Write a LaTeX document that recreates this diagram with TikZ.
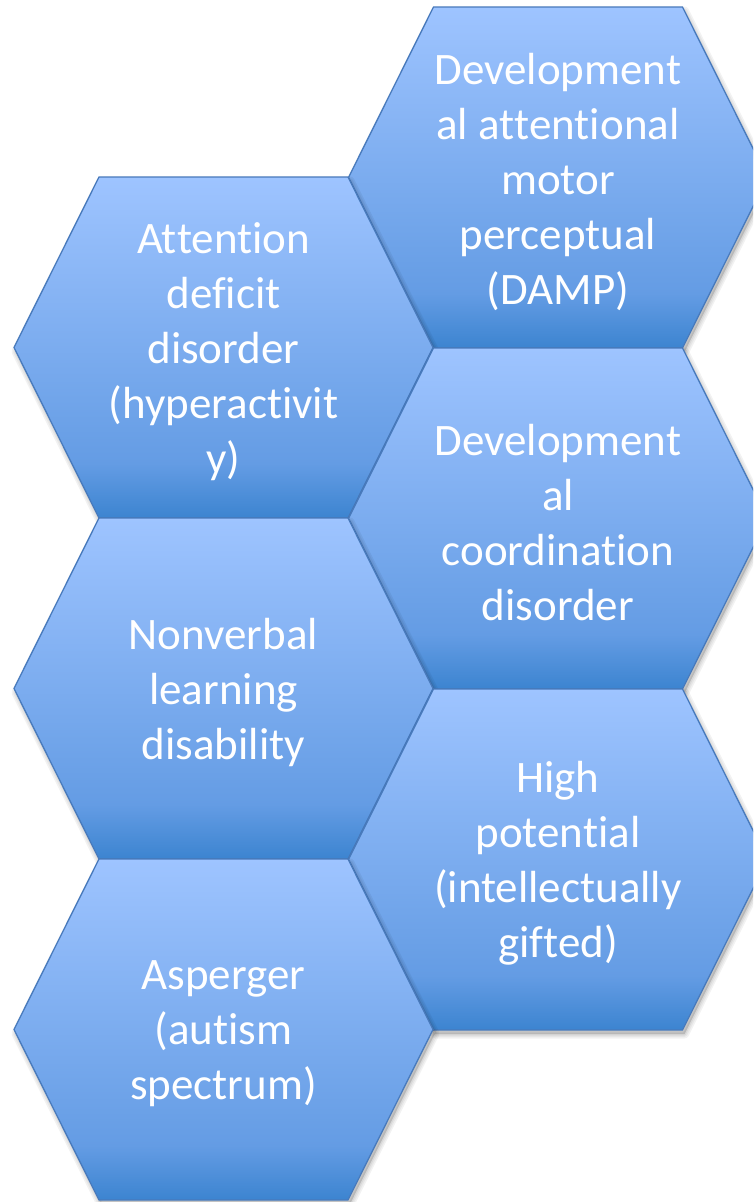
\documentclass[tikz,border=0pt]{standalone}
\usepackage{fontspec}
\setmainfont{Carlito}[Ligatures={CommonOff,ContextualOff}]
\newcommand\nolig{\kern0pt{}}
\definecolor{hexlt}{RGB}{158,196,255}
\definecolor{hexmd}{RGB}{100,156,228}
\definecolor{hexdk}{RGB}{60,132,208}
\definecolor{hexln}{RGB}{72,122,188}
\pgfdeclareverticalshading{hexshade}{100bp}{color(0bp)=(hexdk); color(25bp)=(hexdk); color(33bp)=(hexmd); color(75bp)=(hexlt); color(100bp)=(hexlt)}
\newcommand\hexoutline[2]{(#1-124.5,#2-170.5) -- (#1+124.5,#2-170.5) -- (#1+209.5,#2) -- (#1+124.5,#2+170.5) -- (#1-124.5,#2+170.5) -- (#1-209.5,#2) -- cycle}
\newcommand\drawhex[2]{%
  \foreach \w/\o in {9/0.05,6/0.05,3/0.06}{%
    \path[fill=black,draw=black,opacity=\o,line width=\w pt,line join=round,shift={(2,4)}] \hexoutline{#1}{#2};
  }%
  \shade[shading=hexshade,draw=hexln,line width=1.3pt,line join=miter] \hexoutline{#1}{#2};
}
\tikzset{lbl/.style={text=white,font=\fontsize{45}{55}\selectfont,align=center,inner sep=0pt,yshift=-4pt}}
\begin{document}
\begin{tikzpicture}[x=1pt,y=-1pt]
\useasboundingbox (0,0) rectangle (753,1202);
\clip (0,0) rectangle (753,1202);
\drawhex{558}{177.5}
\drawhex{223.5}{347.5}
\drawhex{558}{518.5}
\drawhex{223.5}{688.5}
\drawhex{558}{859.5}
\drawhex{223.5}{1029.5}
\node[lbl] (damp) at (558,177.5) {Development\\al at\nolig tent\nolig ional\\motor\\perceptual\\(DAMP)};
\node[lbl] (add) at (223.5,347.5) {At\nolig tent\nolig ion\\def\nolig icit\\disorder\\(hyperactivit\\y)};
\node[lbl] (dcd) at (558,518.5) {Development\\al\\coordinat\nolig ion\\disorder};
\node[lbl] (nld) at (223.5,688.5) {Nonverbal\\learning\\disability};
\node[lbl] (hp) at (558,859.5) {High\\potent\nolig ial\\(intellectually\\gif\nolig ted)};
\node[lbl] (asp) at (223.5,1029.5) {Asperger\\(autism\\spectrum)};
\end{tikzpicture}
\end{document}
